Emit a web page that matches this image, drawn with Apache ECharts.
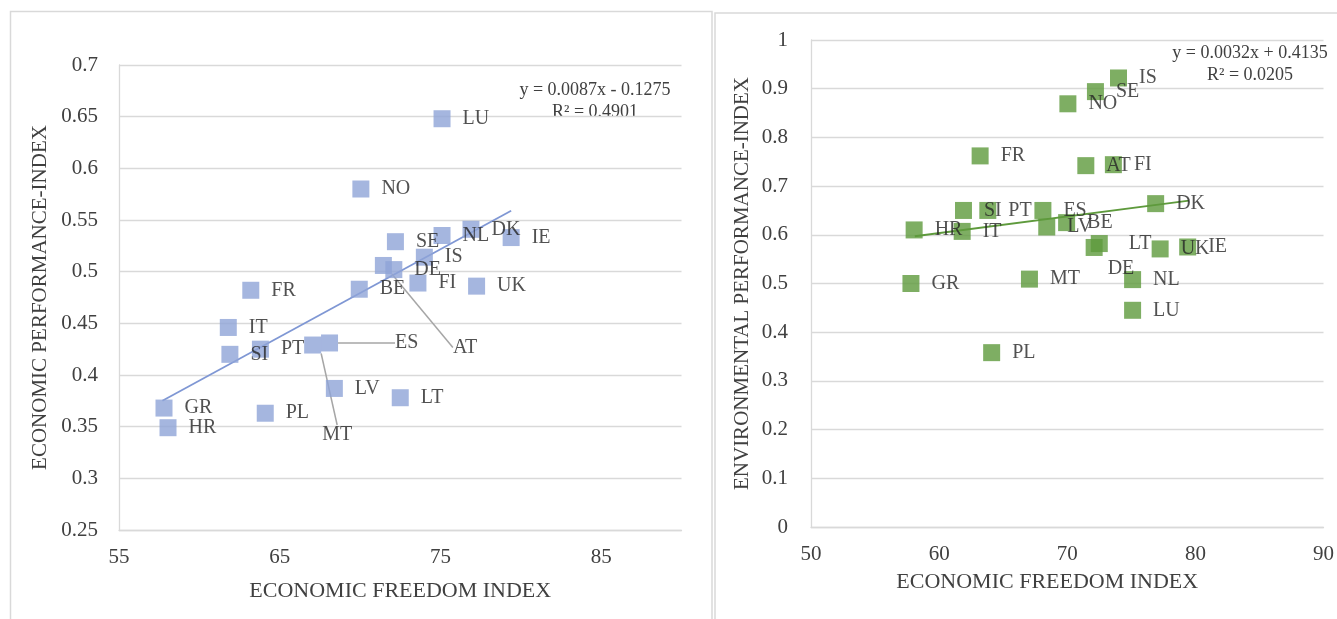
<!DOCTYPE html>
<html>
<head>
<meta charset="utf-8">
<script src="https://cdn.jsdelivr.net/npm/echarts@6/dist/echarts.min.js"></script>
<style>
html,body{margin:0;padding:0;background:#fff;}
#chart{width:1337px;height:619px;}
</style>
</head>
<body>
<div id="chart"></div>
<script>
// ---- data ----
const COUNTRIES = ['LU','NO','SE','NL','DK','IE','IS','DE','AT','FI','UK','BE','FR','IT','SI','PT','MT','ES','LV','LT','PL','GR','HR'];
const FREEDOM   = [75.1,70.05,72.2,75.1,76.9,79.4,74.0,72.1,71.45,73.6,77.25,69.95,63.2,61.8,61.9,63.8,67.05,68.1,68.4,72.5,64.1,57.8,58.05];
const ECON_PERF = [0.648,0.580,0.529,0.535,0.541,0.533,0.514,0.502,0.506,0.489,0.486,0.483,0.482,0.446,0.420,0.425,0.429,0.431,0.387,0.378,0.363,0.368,0.349];
const ENV_PERF  = [0.445,0.869,0.894,0.508,0.664,0.575,0.922,0.574,0.742,0.744,0.571,0.625,0.762,0.607,0.650,0.650,0.509,0.650,0.616,0.582,0.358,0.500,0.610];
const ECON_TREND = [[57.7,0.375],[79.4,0.559]];
const ENV_TREND  = [[58.1,0.597],[79.5,0.670]];
const ECON_EQ = ['y = 0.0087x - 0.1275','R² = 0.4901'];
const ENV_EQ  = ['y = 0.0032x + 0.4135','R² = 0.0205'];
const X_NAME = 'ECONOMIC FREEDOM INDEX';
const ECON_Y_NAME = 'ECONOMIC PERFORMANCE-INDEX';
const ENV_Y_NAME = 'ENVIRONMENTAL PERFORMANCE-INDEX';

// ---- style ----
const FONT = '"Liberation Serif", "DejaVu Serif", serif';
const BLUE = '#8EA4D7';
const GREEN = '#5E9A3C';
const GRID_C = '#d9d9d9';
const TXT = '#404040';
// label displacement (px) relative to default right position
const ECON_LABEL_SHIFT = {ES:[45,0], AT:[49,82], MT:[-11,90]};
const ENV_LABEL_SHIFT = {DE:[-7,21], LT:[9,0]};
const ECON_LEADER = ['ES','AT','MT'];

function pts(ys){ return COUNTRIES.map((c,i)=>({name:c, value:[FREEDOM[i], ys[i]]})); }

const chart = echarts.init(document.getElementById('chart'), null, {renderer:'canvas'});

function xAxis(gi, min, max, showMax, nameGap, namePad){
  return {type:'value', gridIndex:gi, min:min, max:max, interval:10,
    splitLine:{show:false}, axisTick:{show:false},
    axisLine:{show:true, lineStyle:{color:GRID_C, width:1.3}},
    axisLabel:{color:TXT, fontFamily:FONT, fontSize:21, margin:17, showMaxLabel:showMax},
    name:X_NAME, nameLocation:'middle', nameGap:nameGap,
    nameTextStyle:{color:TXT, fontFamily:FONT, fontSize:22, padding:namePad}};
}
function yAxis(gi, min, max, interval, name, nameGap, margin){
  return {type:'value', gridIndex:gi, min:min, max:max, interval:interval,
    splitLine:{show:true, lineStyle:{color:GRID_C, width:1.3}}, axisTick:{show:false},
    axisLine:{show:true, lineStyle:{color:GRID_C, width:1.3}},
    axisLabel:{color:TXT, fontFamily:FONT, fontSize:21, margin:margin},
    name:name, nameLocation:'middle', nameGap:nameGap, nameRotate:90,
    nameTextStyle:{color:TXT, fontFamily:FONT, fontSize:21}};
}
function shiftFn(map){
  return function(p){ const o = map[COUNTRIES[p.dataIndex]]; return o ? {dx:o[0], dy:o[1]} : {}; };
}

const econData = pts(ECON_PERF).map(d => ECON_LEADER.includes(d.name) ? Object.assign(d,{labelLine:{show:true}}) : d);

const option = {
  backgroundColor:'#fff',
  animation:false,
  grid:[
    {left:119, top:65, width:562.5, height:465},
    {left:811, top:40, width:513.5, height:487}
  ],
  xAxis:[ xAxis(0,55,90,false,50,[0,0,0,0]), xAxis(1,50,90,true,44,[0,40,0,0]) ],
  yAxis:[ yAxis(0,0.25,0.7,0.05,ECON_Y_NAME,68,21), yAxis(1,0,1,0.1,ENV_Y_NAME,58,23) ],
  series:[
    {type:'line', xAxisIndex:0, yAxisIndex:0, data:ECON_TREND, symbol:'none',
      lineStyle:{color:'#7F97D4', width:1.8}, z:1, silent:true},
    {type:'scatter', xAxisIndex:0, yAxisIndex:0, data:econData, symbol:'rect', symbolSize:17,
      itemStyle:{color:BLUE}, z:2,
      label:{show:true, position:'right', distance:12, formatter:'{b}', color:'#262626', fontFamily:FONT, fontSize:20},
      labelLine:{show:false, lineStyle:{color:'#a6a6a6', width:1.5}},
      labelLayout:shiftFn(ECON_LABEL_SHIFT)},
    {type:'line', xAxisIndex:1, yAxisIndex:1, data:ENV_TREND, symbol:'none',
      lineStyle:{color:GREEN, width:1.8}, z:1, silent:true},
    {type:'scatter', xAxisIndex:1, yAxisIndex:1, data:pts(ENV_PERF), symbol:'rect', symbolSize:17,
      itemStyle:{color:GREEN}, z:2,
      label:{show:true, position:'right', distance:12, formatter:'{b}', color:'#262626', fontFamily:FONT, fontSize:20},
      labelLayout:shiftFn(ENV_LABEL_SHIFT)}
  ],
  graphic:[
    {type:'rect', shape:{x:10.5, y:11.5, width:701.5, height:700}, style:{fill:'none', stroke:GRID_C, lineWidth:1.5}, silent:true, z:-1},
    {type:'rect', shape:{x:715, y:13, width:700, height:700}, style:{fill:'none', stroke:GRID_C, lineWidth:1.5}, silent:true, z:-1},
    {type:'text', style:{text:ECON_EQ[0], x:595, y:90, align:'center', verticalAlign:'middle', font:'18px '+FONT, fill:TXT}},
    {type:'text', style:{text:ECON_EQ[1], x:595, y:112, align:'center', verticalAlign:'middle', font:'18px '+FONT, fill:TXT}},
    {type:'text', style:{text:ENV_EQ[0], x:1250, y:53, align:'center', verticalAlign:'middle', font:'18px '+FONT, fill:TXT}},
    {type:'text', style:{text:ENV_EQ[1], x:1250, y:75, align:'center', verticalAlign:'middle', font:'18px '+FONT, fill:TXT}}
  ]
};
chart.setOption(option);
</script>
</body>
</html>
